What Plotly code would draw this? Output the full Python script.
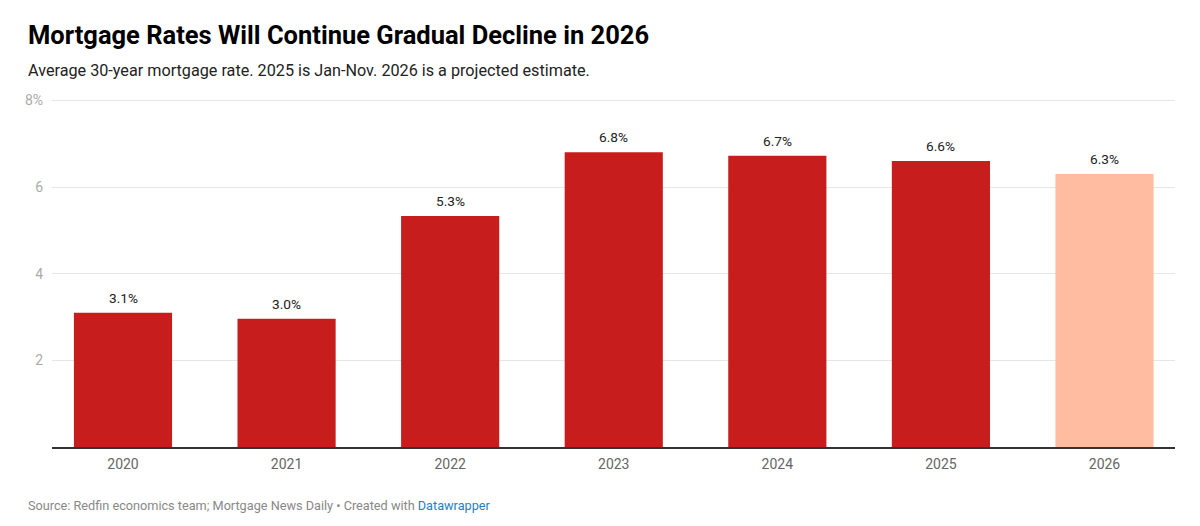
import plotly.graph_objects as go

years = ["2020", "2021", "2022", "2023", "2024", "2025", "2026"]
rates = [3.1, 2.96, 5.33, 6.8, 6.72, 6.6, 6.3]
labels = ["3.1%", "3.0%", "5.3%", "6.8%", "6.7%", "6.6%", "6.3%"]
colors = ["#c71e1d"] * 6 + ["#ffbca1"]
ytick_vals = [2, 4, 6, 8]
ytick_text = ["2", "4", "6", "8%"]

title = "Mortgage Rates Will Continue Gradual Decline in 2026"
subtitle = "Average 30-year mortgage rate. 2025 is Jan-Nov. 2026 is a projected estimate."
source = "Source: Redfin economics team; Mortgage News Daily • Created with <span style='color:#1d81c2'>Datawrapper</span>"

W, H = 1200, 526
L, R, T, B = 52, 25, 96, 79
pw, ph = W - L - R, H - T - B

def px_x(x):
    return (x - L) / pw

def px_y(y):
    return (H - B - y) / ph

fig = go.Figure()
fig.add_trace(go.Bar(
    x=list(range(len(years))), y=rates,
    marker=dict(color=colors, line=dict(width=0)),
    width=0.6, hoverinfo="skip",
))

for i, (v, t) in enumerate(zip(rates, labels)):
    fig.add_annotation(x=i, y=v, text=t, showarrow=False, yanchor="bottom",
                       yshift=5, font=dict(size=13.7, color="#222", family="Roboto"))

fig.add_annotation(xref="paper", yref="paper", x=px_x(26), y=px_y(35), xanchor="left",
                   yanchor="middle", text="<b>" + title + "</b>", showarrow=False,
                   font=dict(size=25.5, color="#000", family="Roboto"))
fig.add_annotation(xref="paper", yref="paper", x=px_x(26), y=px_y(71), xanchor="left",
                   yanchor="middle", text=subtitle, showarrow=False,
                   font=dict(size=16.2, color="#222", family="Roboto"))
fig.add_annotation(xref="paper", yref="paper", x=px_x(26), y=px_y(505), xanchor="left",
                   yanchor="middle", text=source, showarrow=False,
                   font=dict(size=12.7, color="#888", family="Roboto"))

fig.update_layout(
    width=W, height=H,
    margin=dict(l=L, r=R, t=T, b=B, pad=0),
    paper_bgcolor="white", plot_bgcolor="white",
    showlegend=False,
    font=dict(family="Roboto"),
    xaxis=dict(
        range=[-0.434, 6.431], tickmode="array",
        tickvals=list(range(len(years))), ticktext=years,
        showgrid=False, zeroline=False, showline=True,
        linecolor="#333", linewidth=1.5, ticks="",
        tickfont=dict(size=14, color="#666"), ticklabelstandoff=3,
        fixedrange=True,
    ),
    yaxis=dict(
        range=[0, 8.1], tickmode="array", tickvals=ytick_vals, ticktext=ytick_text,
        showgrid=True, gridcolor="#e6e6e6", gridwidth=1, zeroline=False,
        showline=False, ticks="", tickfont=dict(size=14, color="#aaa"),
        ticklabelstandoff=8, fixedrange=True,
    ),
)

fig.write_html("out.html", config={"displayModeBar": False},
               post_script="document.body.style.margin='0';document.body.style.overflow='hidden';")
